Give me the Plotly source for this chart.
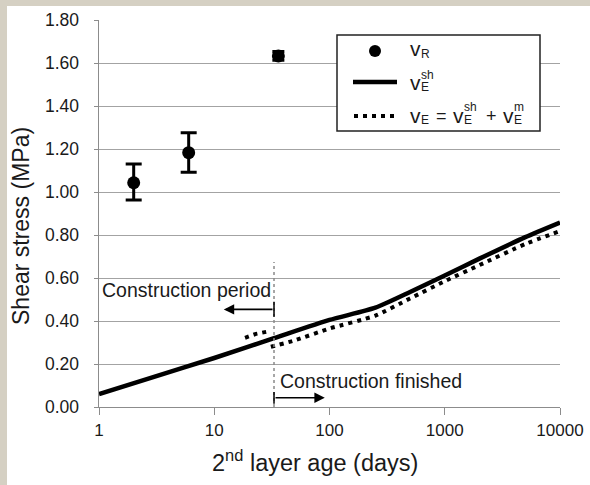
import numpy as np
import plotly.graph_objects as go

# ---------------- data ----------------
vr_age = [2, 6, 36]
vr_val = [1.043, 1.183, 1.633]
vr_err_plus = [0.087, 0.093, 0.02]
vr_err_minus = [0.08, 0.091, 0.02]

vesh_age = [1, 3, 10, 33, 100, 250, 500, 1000, 2000, 5000, 10000]
vesh_val = [0.06, 0.14, 0.228, 0.32, 0.405, 0.462, 0.535, 0.612, 0.69, 0.79, 0.858]

ve_pre_age = [18.5, 23, 28.5]
ve_pre_val = [0.322, 0.34, 0.35]
ve_post_age = [31, 50, 100, 250, 500, 1000, 2000, 5000, 10000]
ve_post_val = [0.28, 0.31, 0.365, 0.425, 0.505, 0.585, 0.66, 0.758, 0.818]

construction_end = 33
xtick_vals = [1, 10, 100, 1000, 10000]
xtick_text = ["1", "10", "100", "1000", "10000"]
ytick_vals = [0.0, 0.2, 0.4, 0.6, 0.8, 1.0, 1.2, 1.4, 1.6, 1.8]
ytick_text = ["0.00", "0.20", "0.40", "0.60", "0.80", "1.00", "1.20", "1.40", "1.60", "1.80"]

# ---------------- geometry helpers ----------------
L, R, T, B = 99, 30, 20, 78
W, H = 590, 485
PW = W - L - R
PH = H - T - B


def px(xpix):
    return (xpix - L) / PW


def py(ypix):
    return (H - B - ypix) / PH


FONT = "Liberation Sans, Arial, sans-serif"
INK = "#1a1a1a"
BEIGE = "#d5d0c3"
AXIS = "#8c8c8c"

fig = go.Figure()

# v_E^sh solid
fig.add_trace(go.Scatter(x=vesh_age, y=vesh_val, mode="lines",
                         line=dict(color="black", width=4.5, shape="spline", smoothing=0.6),
                         showlegend=False, hoverinfo="skip"))
# v_E dotted
dot = dict(color="black", width=4, dash="4px,5px")
fig.add_trace(go.Scatter(x=ve_pre_age, y=ve_pre_val, mode="lines", line=dot,
                         showlegend=False, hoverinfo="skip"))
fig.add_trace(go.Scatter(x=ve_post_age, y=ve_post_val, mode="lines",
                         line=dict(dot, shape="spline", smoothing=0.6),
                         showlegend=False, hoverinfo="skip"))
# v_R points
fig.add_trace(go.Scatter(x=vr_age[:2], y=vr_val[:2], mode="markers",
                         marker=dict(color="black", size=13, symbol="circle"),
                         error_y=dict(type="data", symmetric=False, array=vr_err_plus[:2],
                                      arrayminus=vr_err_minus[:2], color="black",
                                      thickness=3, width=8),
                         showlegend=False))
fig.add_trace(go.Scatter(x=vr_age[2:], y=vr_val[2:], mode="markers",
                         marker=dict(color="black", size=13, symbol="circle"),
                         error_y=dict(type="data", symmetric=False, array=vr_err_plus[2:],
                                      arrayminus=vr_err_minus[2:], color="black",
                                      thickness=3, width=6),
                         showlegend=False))

shapes = []
# beige frame strips (top and left) around the white panel
shapes.append(dict(type="rect", xref="paper", yref="paper", layer="below",
                   x0=px(-20), x1=px(620), y0=py(6), y1=py(-20),
                   fillcolor=BEIGE, line=dict(width=0)))
shapes.append(dict(type="rect", xref="paper", yref="paper", layer="below",
                   x0=px(-20), x1=px(7), y0=py(500), y1=py(-20),
                   fillcolor=BEIGE, line=dict(width=0)))
# construction end vertical dotted line (shape coords on log axis are data values)
shapes.append(dict(type="line", xref="x", yref="y", x0=construction_end, x1=construction_end,
                   y0=0, y1=0.675, line=dict(color="#8a8a8a", width=1.5, dash="dot")))
# small end ticks of arrows
shapes.append(dict(type="line", xref="x", yref="y", x0=construction_end, x1=construction_end,
                   y0=0.42, y1=0.49, line=dict(color="black", width=1.5)))
shapes.append(dict(type="line", xref="x", yref="y", x0=construction_end, x1=construction_end,
                   y0=0.015, y1=0.07, line=dict(color="black", width=1.5)))

# legend box
shapes.append(dict(type="rect", xref="paper", yref="paper",
                   x0=px(337), x1=px(540), y0=py(131), y1=py(35),
                   fillcolor="white", line=dict(color="#222", width=1.5)))
shapes.append(dict(type="circle", xref="paper", yref="paper",
                   x0=px(369), x1=px(381), y0=py(57), y1=py(45),
                   fillcolor="black", line=dict(color="black", width=0)))
shapes.append(dict(type="line", xref="paper", yref="paper",
                   x0=px(353), x1=px(397), y0=py(82), y1=py(82),
                   line=dict(color="black", width=4.5)))
shapes.append(dict(type="line", xref="paper", yref="paper",
                   x0=px(354), x1=px(398), y0=py(116), y1=py(116),
                   line=dict(color="black", width=4, dash="4px,5px")))

ann = []
cx = np.log10(construction_end)
# y tick labels placed on the y scale, right-aligned a bit away from the axis
for v, t in zip(ytick_vals, ytick_text):
    ann.append(dict(x=px(81), y=v, xref="paper", yref="y", text=t, showarrow=False,
                    xanchor="right", yanchor="middle",
                    font=dict(family=FONT, size=17.5, color=INK)))
# arrows (annotation coords on log axis are log10 values)
ann.append(dict(x=np.log10(12.1), y=0.454, ax=cx, ay=0.454, xref="x", yref="y",
                axref="x", ayref="y", text="", showarrow=True, arrowhead=2,
                arrowsize=1.3, arrowwidth=1.6, arrowcolor="black"))
ann.append(dict(x=np.log10(91), y=0.043, ax=cx, ay=0.043, xref="x", yref="y",
                axref="x", ayref="y", text="", showarrow=True, arrowhead=2,
                arrowsize=1.3, arrowwidth=1.6, arrowcolor="black"))
ann.append(dict(x=np.log10(32.3), y=0.545, xref="x", yref="y", text="Construction period",
                showarrow=False, xanchor="right", yanchor="middle",
                font=dict(family=FONT, size=19.5, color=INK)))
ann.append(dict(x=np.log10(36), y=0.123, xref="x", yref="y", text="Construction finished",
                showarrow=False, xanchor="left", yanchor="middle",
                font=dict(family=FONT, size=19.5, color=INK)))

# axis titles
ann.append(dict(x=px(21), y=py(226), xref="paper", yref="paper", text="Shear stress (MPa)",
                textangle=-90, showarrow=False, xanchor="center", yanchor="middle",
                font=dict(family=FONT, size=23, color=INK)))
ann.append(dict(x=px(315), y=py(461), xref="paper", yref="paper",
                text="2<sup>nd</sup> layer age (days)",
                showarrow=False, xanchor="center", yanchor="middle",
                font=dict(family=FONT, size=23.5, color=INK)))


# legend text pieces
def lt(xpix, ypix, text, size):
    ann.append(dict(x=px(xpix), y=py(ypix), xref="paper", yref="paper", text=text,
                    showarrow=False, xanchor="left", yanchor="middle", borderpad=0,
                    font=dict(family=FONT, size=size, color=INK)))


BIG, SMALL = 21, 12
# entry 1
lt(409, 49, "v", BIG)
lt(420, 54, "R", SMALL)
# entry 2
lt(409, 82, "v", BIG)
lt(420, 87, "E", SMALL)
lt(420, 75, "sh", SMALL)
# entry 3
lt(409, 115, "v", BIG)
lt(420, 120, "E", SMALL)
lt(435, 116, "=", 18)
lt(452, 115, "v", BIG)
lt(463, 120, "E", SMALL)
lt(463, 107, "sh", SMALL)
lt(485, 116, "+", 18)
lt(502, 115, "v", BIG)
lt(513, 120, "E", SMALL)
lt(513, 107, "m", SMALL)

fig.update_layout(
    width=W, height=H, autosize=False,
    margin=dict(l=L, r=R, t=T, b=B, autoexpand=False),
    paper_bgcolor="white",
    plot_bgcolor="white",
    shapes=shapes,
    annotations=ann,
    showlegend=False,
    xaxis=dict(type="log", range=[0, 4], tickvals=xtick_vals, ticktext=xtick_text,
               automargin=False,
               showgrid=False, zeroline=False, showline=True, linecolor=AXIS,
               linewidth=1.3, ticks="outside", ticklen=7, tickcolor=AXIS,
               tickfont=dict(family=FONT, size=17, color=INK)),
    yaxis=dict(range=[0, 1.8], tickvals=ytick_vals, showticklabels=False, showgrid=True,
               automargin=False,
               gridcolor="#a3a3a3", gridwidth=1.3, zeroline=False, showline=True,
               linecolor=AXIS, linewidth=1.3, ticks="outside", ticklen=4,
               tickcolor=AXIS, tickwidth=1.3),
)

fig.write_html("out.html",
               config=dict(displayModeBar=False, responsive=False),
               post_script="document.body.style.margin='0';"
                           "document.body.style.overflow='hidden';")
